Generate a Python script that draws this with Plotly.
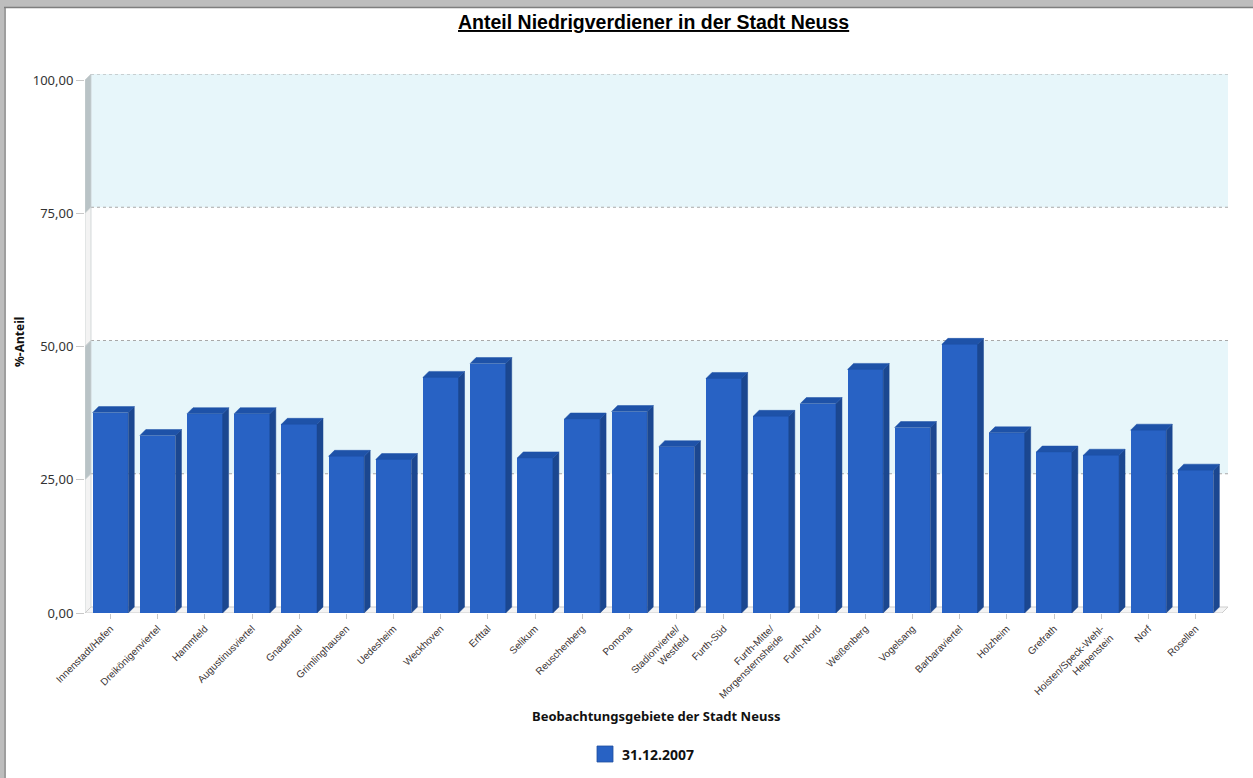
import plotly.graph_objects as go

# Share of low earners per district of Neuss (in %)
districts = [
    "Innenstadt/Hafen", "Dreikönigenviertel", "Hammfeld", "Augustinusviertel",
    "Gnadental", "Grimlinghausen", "Uedesheim", "Weckhoven", "Erfttal",
    "Selikum", "Reuschenberg", "Pomona", "Stadionviertel/<br>Westfeld",
    "Furth-Süd", "Furth-Mitte/<br>Morgensternsheide", "Furth-Nord",
    "Weißenberg", "Vogelsang", "Barbaraviertel", "Holzheim", "Grefrath",
    "Hoisten/Speck-Wehl-<br>Helpenstein", "Norf", "Rosellen",
]
share_2007 = [
    37.6, 33.3, 37.4, 37.4, 35.4, 29.4, 28.8, 44.2, 46.8, 29.1, 36.4, 37.8,
    31.2, 44.0, 36.9, 39.3, 45.7, 34.8, 50.4, 33.8, 30.2, 29.6, 34.3, 26.8,
]
series_name = "31.12.2007"
y_ticks = [0, 25, 50, 75, 100]
y_ticktext = ["0,00", "25,00", "50,00", "75,00", "100,00"]

# figure geometry (pixels)
W, H = 1253, 778
PL, PR, PT, PB = 85, 1228, 74, 613

# pseudo-3D depth, expressed in axis units
DX = 0.127      # horizontal depth (category units)
DY = 1.125      # vertical depth (value units)
BAR_W = 0.755
X0, X1 = -0.54, 23.56 + DX
Y0, Y1 = -DY, 100

FRONT = "#2862C4"
SIDE = "#1B4790"
TOP = "#1E52A8"
BAND = "#E7F6FA"

idx = list(range(len(districts)))


def px_x(p):
    return (p - PL) / (PR - PL)


def px_y(p):
    return (PB - p) / (PB - PT)


fig = go.Figure()

# front faces
fig.add_trace(go.Bar(
    x=idx, y=share_2007, base=-DY, width=BAR_W,
    marker=dict(color=FRONT, line=dict(width=0)),
    name=series_name, showlegend=False, hoverinfo="skip",
))

# side and top faces derived from each value
sx, sy, tx, ty = [], [], [], []
for i, v in zip(idx, share_2007):
    r = i + BAR_W / 2
    l = i - BAR_W / 2
    sx += [r, r + DX, r + DX, r, r, None]
    sy += [-DY, 0, v, v - DY, -DY, None]
    tx += [l, l + DX, r + DX, r, l, None]
    ty += [v - DY, v, v, v - DY, v - DY, None]
fig.add_trace(go.Scatter(x=sx, y=sy, fill="toself", fillcolor=SIDE, mode="lines",
                         line=dict(width=0.5, color=SIDE), showlegend=False,
                         hoverinfo="skip"))
fig.add_trace(go.Scatter(x=tx, y=ty, fill="toself", fillcolor=TOP, mode="lines",
                         line=dict(width=0.5, color=TOP), showlegend=False,
                         hoverinfo="skip"))

shapes = []
bx0, bx1 = X0 + DX, X1
# back wall bands and gridlines
for lo, hi, fill in [(75, 100, BAND), (25, 50, BAND)]:
    shapes.append(dict(type="rect", xref="x", yref="y", x0=bx0, x1=bx1, y0=lo, y1=hi,
                       fillcolor=fill, line=dict(width=0), layer="below"))
for g in y_ticks[1:]:
    shapes.append(dict(type="line", xref="x", yref="y", x0=bx0, x1=bx1, y0=g, y1=g,
                       line=dict(color="#A8A8A8", width=1, dash="dot"), layer="below"))
# left wall
for lo, hi, fill in [(75, 100, "#B9C3C6"), (50, 75, "#F3F3F3"),
                     (25, 50, "#B9C3C6"), (0, 25, "#F3F3F3")]:
    path = (f"M{X0},{lo - DY} L{X0 + DX},{lo} L{X0 + DX},{hi} L{X0},{hi - DY} Z")
    shapes.append(dict(type="path", xref="x", yref="y", path=path, fillcolor=fill,
                       line=dict(color="#C9CFD1", width=0.8), layer="below"))
# floor
floor = (f"M{X0},{-DY} L{X0 + DX},0 L{X1},0 L{X1 - DX},{-DY} Z")
shapes.append(dict(type="path", xref="x", yref="y", path=floor, fillcolor="#F4F4F4",
                   line=dict(color="#CDCDCD", width=1), layer="below"))

# legend swatch
shapes.append(dict(type="rect", xref="paper", yref="paper",
                   x0=px_x(597), x1=px_x(613), y0=px_y(746), y1=px_y(762),
                   fillcolor=FRONT, line=dict(color="#1F4E9E", width=0.8)))

# window frame (top and left)
shapes += [
    dict(type="rect", xref="paper", yref="paper", x0=px_x(0), x1=px_x(W),
         y0=px_y(0), y1=px_y(7), fillcolor="#BDBDBD", line=dict(width=0)),
    dict(type="line", xref="paper", yref="paper", x0=px_x(0), x1=px_x(W),
         y0=px_y(7.5), y1=px_y(7.5), line=dict(color="#7E7E7E", width=1.5)),
    dict(type="rect", xref="paper", yref="paper", x0=px_x(0), x1=px_x(4),
         y0=px_y(0), y1=px_y(H), fillcolor="#BDBDBD", line=dict(width=0)),
    dict(type="line", xref="paper", yref="paper", x0=px_x(5), x1=px_x(5),
         y0=px_y(7), y1=px_y(H), line=dict(color="#7E7E7E", width=1.5)),
]

annotations = [
    dict(text="<b><u>Anteil Niedrigverdiener in der Stadt Neuss</u></b>",
         xref="paper", yref="paper", x=px_x(653), y=px_y(22), showarrow=False,
         xanchor="center", yanchor="middle",
         font=dict(family="Liberation Sans, Arial", size=19.5, color="#000000")),
    dict(text="<b>Beobachtungsgebiete der Stadt Neuss</b>",
         xref="paper", yref="paper", x=px_x(656), y=px_y(716), showarrow=False,
         xanchor="center", yanchor="middle",
         font=dict(family="Noto Sans", size=13, color="#111111")),
    dict(text="<b>%-Anteil</b>", textangle=-90,
         xref="paper", yref="paper", x=px_x(19), y=px_y(342), showarrow=False,
         xanchor="center", yanchor="middle",
         font=dict(family="Noto Sans", size=12, color="#111111")),
    dict(text="<b>" + series_name + "</b>",
         xref="paper", yref="paper", x=px_x(620), y=px_y(754), showarrow=False,
         xanchor="left", yanchor="middle",
         font=dict(family="Noto Sans", size=14, color="#111111")),
]

# y labels sit at the front edge of the left wall
y_label_pos = [t - DY for t in y_ticks]

fig.update_layout(
    width=W, height=H,
    margin=dict(l=PL, r=W - PR, t=PT, b=H - PB, pad=0, autoexpand=False),
    paper_bgcolor="white", plot_bgcolor="white",
    shapes=shapes, annotations=annotations,
    showlegend=False,
    xaxis=dict(range=[X0, X1], tickmode="array", tickvals=idx, ticktext=districts,
               tickangle=-45, ticks="outside", ticklen=5, tickcolor="#C8C8C8",
               showgrid=False, zeroline=False, showline=False, automargin=False,
               tickfont=dict(family="Liberation Sans, Arial", size=10, color="#3A3333")),
    yaxis=dict(range=[Y0, Y1], tickmode="array", tickvals=y_label_pos,
               ticktext=y_ticktext, ticks="outside", ticklen=8, tickcolor="#C8C8C8",
               showgrid=False, zeroline=False, showline=False, automargin=False,
               tickfont=dict(family="Noto Sans", size=13, color="#333333")),
    bargap=0,
)

fig.write_html("out.html")
